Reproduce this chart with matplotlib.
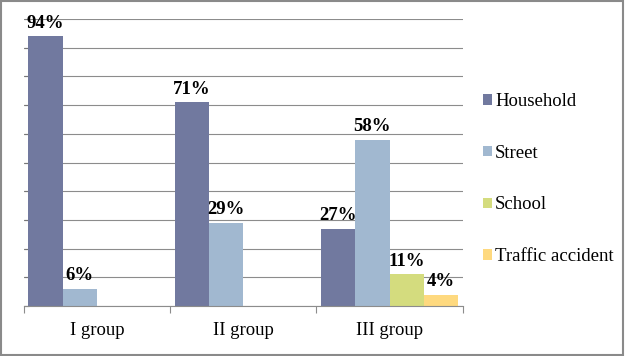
#!/usr/bin/env python3
import matplotlib
matplotlib.use("Agg")
import matplotlib.pyplot as plt
from matplotlib.patches import Rectangle, Patch
import numpy as np

groups = ['I group', 'II group', 'III group']
causes = ['Household', 'Street', 'School', 'Traffic accident']
household = [94, 71, 27]
street = [6, 29, 58]
school = [0, 0, 11]
traffic = [0, 0, 4]
colors = ['#71799f', '#a1b8d0', '#d4dc7e', '#fed97f']

plt.rcParams['font.family'] = ['Liberation Serif', 'DejaVu Serif']

fig = plt.figure(figsize=(6.25, 3.56), dpi=100)
ax = fig.add_axes([24/625, 1-306/356, (462.7-24)/625, (306-19)/356])

x = np.arange(len(groups))
w = 0.235
series = [household, street, school, traffic]
for i, (vals, col) in enumerate(zip(series, colors)):
    pos = x - 0.47 + w*(i + 0.5)
    ax.bar(pos, vals, width=w, color=col, zorder=2)
    for p, v in zip(pos, vals):
        if v > 0:
            ax.annotate('{:d}%'.format(v), (p, v), xytext=(0, 6), textcoords='offset points',
                        ha='center', va='baseline', fontsize=13.5, fontweight='bold')

ax.set_ylim(0, 100)
ax.set_xlim(-0.5, 2.5)
ax.set_yticks(range(0, 101, 10))
ax.yaxis.grid(True, color='#8c8c8c', lw=0.8, zorder=0)
ax.tick_params(axis='y', direction='in', length=3.5, width=0.8, color='#777777', labelleft=False)
ax.set_xticks(x)
ax.set_xticklabels(groups, fontsize=13.5)
ax.set_xticks([-0.5, 0.5, 1.5, 2.5], minor=True)
ax.tick_params(axis='x', which='major', length=0, pad=11.5)
ax.tick_params(axis='x', which='minor', length=5, color='#8c8c8c', width=0.8)
for s in ['top', 'right', 'left']:
    ax.spines[s].set_visible(False)
ax.spines['bottom'].set_color('#8c8c8c')
ax.spines['bottom'].set_linewidth(0.8)

handles = [Patch(facecolor=c, edgecolor='none') for c in colors]
fig.legend(handles, causes, loc='center left', bbox_to_anchor=(482.5/625, 0.497),
           frameon=False, fontsize=13.5, borderpad=0, borderaxespad=0,
           handlelength=0.48, handleheight=0.48, handletextpad=0.2, labelspacing=1.85)

fig.patches.append(Rectangle((0.002, 0.003), 0.995, 0.993, transform=fig.transFigure,
                             fill=False, edgecolor='#8a8a8a', lw=1.5))

fig.savefig('out.png', dpi=100)
